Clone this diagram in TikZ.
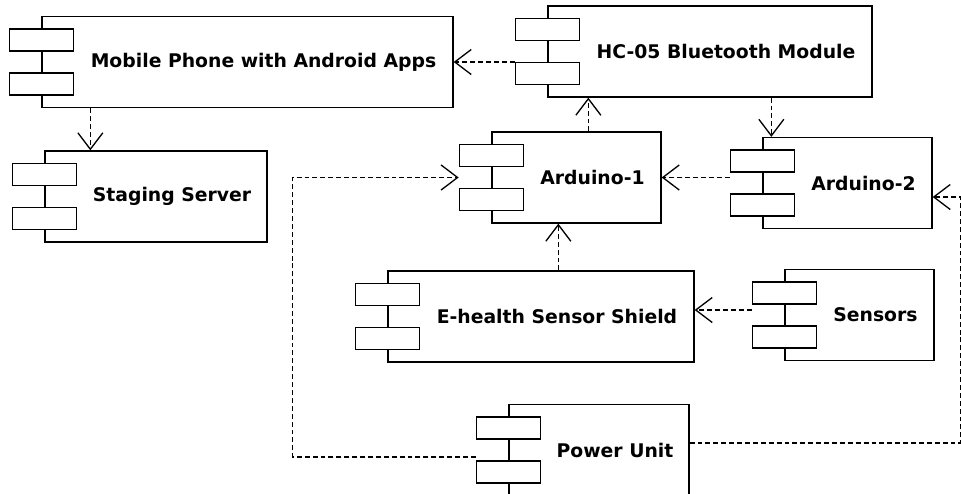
\documentclass[tikz,border=0pt]{standalone}
\usepackage{fontspec}
\setmainfont{DejaVu Sans}
\usetikzlibrary{arrows.meta,calc}

\begin{document}
\begin{tikzpicture}[x=0.02cm, y=-0.02cm, line width=0.75pt,
    >={Straight Barb[length=3.3mm,width=5mm]},
    compbox/.style={draw, inner sep=0pt, minimum height=1.82cm},
    tabbox/.style={draw, fill=white, inner sep=0pt, minimum width=1.28cm, minimum height=0.44cm},
    lbl/.style={font=\fontsize{10.7}{13}\selectfont\bfseries},
    dep/.style={->, dash pattern=on 2.8pt off 1.7pt}]

    % Area da figura
    \useasboundingbox (0,0) rectangle (961,494);

    % Componente: nome, x, y, largura, texto
    \def\component#1#2#3#4#5{%
        \node[compbox, minimum width=#4*0.02cm] (#1) at (#2,#3) {};
        \node[tabbox] (#1-t1) at ($(#1.west)+(0,-22)$) {};
        \node[tabbox] (#1-t2) at ($(#1.west)+(0,22)$) {};
        \node[lbl] (#1-l) at ($(#1.center)+(16,0)$) {#5};
    }

    % Componentes
    \component{mobile}{247.5}{62}{411}{Mobile Phone with Android Apps}
    \component{staging}{156}{196.5}{222}{Staging Server}
    \component{hc}{710}{51.5}{324}{HC-05 Bluetooth Module}
    \component{ard1}{576.5}{177.5}{169}{Arduino-1}
    \component{ard2}{847.5}{183}{169}{Arduino-2}
    \component{ehealth}{541}{316.5}{306}{E-health Sensor Shield}
    \component{sens}{859.5}{315}{149}{Sensors}
    \component{power}{599}{450}{180}{Power Unit}

    % Dependencias
    \draw[dep] (hc-t2.west |- mobile.east) -- (mobile.east);
    \draw[dep] ($(mobile.south west)+(49,0)$) -- ($(staging.north west)+(46,0)$);
    \draw[dep] ($(ard1.north west)+(97,0)$) coordinate (a1) -- (a1 |- hc.south);
    \coordinate (a2) at ($(ard2.north west)+(9,0)$);
    \draw[dep] (a2 |- hc.south) -- (a2);
    \draw[dep] (ard2-t1.west |- ard1.east) -- (ard1.east);
    \draw[dep] ($(ehealth.north west)+(171,0)$) coordinate (e1) -- (e1 |- ard1.south);
    \draw[dep] ($(sens-t1.west |- sens.west)+(0,-5)$) coordinate (s1) -- (s1 -| ehealth.east);

    % Alimentacao
    \draw[dep] ($(power-t1.west |- power.west)+(0,7)$) -- ++(-183,0) |- (ard1-t1.west |- ard1.west);
    \draw[dep] ($(power.east)+(0,-7)$) -- ++(271,0) |- ($(ard2.east)+(0,14)$);

\end{tikzpicture}
\end{document}
